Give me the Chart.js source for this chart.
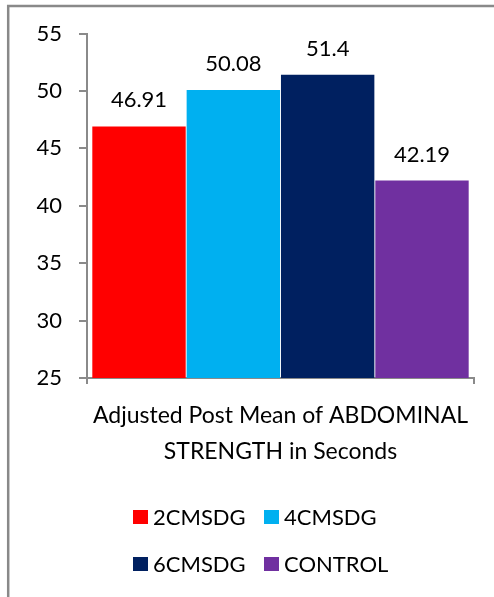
<!DOCTYPE html>
<html>
<head>
<meta charset="utf-8">
<script src="https://cdn.jsdelivr.net/npm/chart.js@4/dist/chart.umd.min.js"></script>
<style>
  html, body { margin: 0; padding: 0; background: #ffffff; }
  #wrap { width: 494px; height: 597px; }
</style>
</head>
<body>
<div id="wrap"><canvas id="c" width="494" height="597"></canvas></div>
<script>
// Adjusted post-test means of abdominal strength (seconds) per group
const categories = ['Adjusted Post Mean of ABDOMINAL STRENGTH in Seconds'];
const titleLines = ['Adjusted Post Mean of ABDOMINAL', 'STRENGTH in Seconds'];
const groups = ['2CMSDG', '4CMSDG', '6CMSDG', 'CONTROL'];
const means = [46.91, 50.08, 51.4, 42.19];
const colors = ['#FF0000', '#00B0F0', '#002060', '#7030A0'];
const yTicks = [25, 30, 35, 40, 45, 50, 55];

const FONT = 'Lato, "Liberation Sans", sans-serif';
const FONT_SIZE = 22;
const TITLE_SIZE = 23;
const AXIS_GREY = '#8a8a8a';

// Outer frame (left and top edges of the surrounding box)
const framePlugin = {
  id: 'frame',
  beforeDraw(chart) {
    const ctx = chart.ctx;
    ctx.save();
    ctx.fillStyle = '#ffffff';
    ctx.fillRect(0, 0, chart.width, chart.height);
    ctx.strokeStyle = '#898989';
    ctx.lineWidth = 2.5;
    ctx.beginPath();
    ctx.moveTo(8.2, chart.height);
    ctx.lineTo(8.2, 6);
    ctx.lineTo(chart.width, 6);
    ctx.stroke();
    ctx.restore();
  }
};

// Value labels above each bar
const valueLabels = {
  id: 'valueLabels',
  afterDatasetsDraw(chart) {
    const ctx = chart.ctx;
    ctx.save();
    ctx.font = FONT_SIZE + 'px ' + FONT;
    ctx.fillStyle = '#000000';
    ctx.textAlign = 'center';
    ctx.textBaseline = 'alphabetic';
    chart.data.datasets.forEach((ds, i) => {
      const meta = chart.getDatasetMeta(i);
      meta.data.forEach((bar, j) => {
        ctx.fillText(String(ds.data[j]), bar.x, bar.y - 19);
      });
    });
    ctx.restore();
  }
};

// Two-column legend below the axis title
const gridLegend = {
  id: 'gridLegend',
  afterDraw(chart) {
    const ctx = chart.ctx;
    const colX = [133, 264];
    const rowY = [517, 564];
    const box = 14;
    ctx.save();
    ctx.font = FONT_SIZE + 'px ' + FONT;
    ctx.textBaseline = 'middle';
    ctx.textAlign = 'left';
    chart.data.datasets.forEach((ds, i) => {
      const x = colX[i % 2];
      const y = rowY[Math.floor(i / 2)];
      ctx.fillStyle = ds.backgroundColor;
      ctx.fillRect(x, y - box / 2, box + 1, box);
      ctx.fillStyle = '#000000';
      ctx.fillText(ds.label, x + 20, y + 1);
    });
    ctx.restore();
  }
};

new Chart(document.getElementById('c'), {
  type: 'bar',
  data: {
    labels: categories,
    datasets: groups.map((g, i) => ({
      label: g,
      data: [means[i]],
      backgroundColor: colors[i],
      borderWidth: 0,
      categoryPercentage: 0.975,
      barPercentage: 0.99
    }))
  },
  options: {
    responsive: false,
    animation: false,
    devicePixelRatio: 1,
    layout: { padding: { top: 33.5, right: 20, bottom: 0, left: 0 } },
    plugins: {
      legend: { display: false },
      tooltip: { enabled: false }
    },
    scales: {
      x: {
        ticks: { display: false },
        grid: {
          display: true,
          drawOnChartArea: false,
          drawTicks: true,
          tickLength: 6,
          offset: true,
          color: AXIS_GREY,
          lineWidth: 2
        },
        border: { display: true, color: AXIS_GREY, width: 2 },
        title: {
          display: true,
          text: titleLines,
          color: '#000000',
          font: { family: FONT, size: TITLE_SIZE, lineHeight: 36 / TITLE_SIZE },
          padding: { top: 0, bottom: 127 }
        },
        afterFit(scale) { scale.height = 219; }
      },
      y: {
        min: yTicks[0],
        max: yTicks[yTicks.length - 1],
        afterBuildTicks(scale) { scale.ticks = yTicks.map(v => ({ value: v })); },
        ticks: {
          color: '#000000',
          font: { family: FONT, size: FONT_SIZE },
          padding: 17
        },
        grid: {
          drawOnChartArea: false,
          drawTicks: true,
          tickLength: 8,
          color: AXIS_GREY,
          lineWidth: 2
        },
        border: { display: true, color: AXIS_GREY, width: 2 },
        afterFit(scale) { scale.width = 87; }
      }
    }
  },
  plugins: [framePlugin, valueLabels, gridLegend]
});
</script>
</body>
</html>
